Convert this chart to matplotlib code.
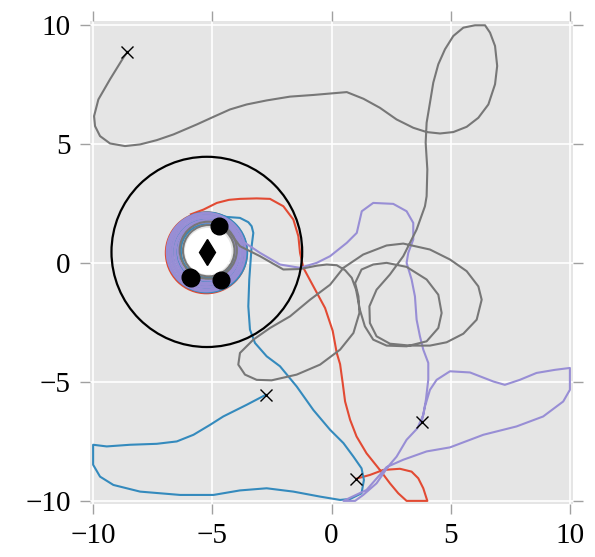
import matplotlib
matplotlib.use("Agg")
import matplotlib.pyplot as plt
from matplotlib.patches import Circle

plt.rcParams["font.family"] = ["Liberation Serif", "DejaVu Sans"]

# Agent trajectories (start marked with an x, ending in orbit around the target)
red_x = [1.03, 1.61, 2.17, 2.87, 3.36, 3.64, 3.85, 4.02, 3.15, 2.80, 2.45, 2.03, 1.47,
         1.05, 0.78, 0.57, 0.47, 0.36, 0.22, 0.05, -0.27, -0.76, -1.18, -1.32, -1.39,
         -1.60, -2.02, -2.58, -3.14, -3.84, -4.30, -4.81, -5.37, -5.90]
red_y = [-9.07, -8.91, -8.70, -8.65, -8.77, -9.05, -9.47, -10.0, -10.0, -9.68, -9.26,
         -8.70, -8.00, -7.29, -6.59, -5.82, -5.05, -4.25, -3.78, -2.85, -1.89, -0.98,
         -0.20, 0.43, 1.13, 1.83, 2.39, 2.70, 2.72, 2.70, 2.66, 2.53, 2.25, 2.05]

blue_x = [-2.76, -3.56, -4.54, -5.09, -5.79, -6.49, -7.33, -8.45, -9.43, -10.0, -10.0,
          -9.71, -9.15, -8.03, -6.35, -4.95, -3.84, -2.72, -1.60, -0.48, 0.36, 0.78,
          1.26, 1.36, 1.26, 0.92, 0.50, -0.06, -0.76, -1.46, -2.16, -2.72, -3.21, -3.42,
          -3.49, -3.45, -3.35, -3.28, -3.35, -3.49, -3.84, -4.40, -4.90]
blue_y = [-5.54, -5.96, -6.45, -6.80, -7.22, -7.50, -7.60, -7.64, -7.71, -7.64, -8.48,
          -8.98, -9.33, -9.61, -9.75, -9.75, -9.56, -9.47, -9.61, -9.82, -9.96, -9.92,
          -9.68, -9.12, -8.63, -8.14, -7.57, -7.01, -6.18, -5.19, -4.34, -3.92, -3.36,
          -2.80, -1.82, -0.69, 0.71, 1.27, 1.55, 1.72, 1.90, 1.94, 2.08]

purple_x = [3.78, 3.92, 4.13, 4.41, 4.97, 5.81, 6.79, 7.27, 7.90, 8.60, 9.37, 10.0, 10.0,
            9.72, 8.88, 7.76, 6.37, 4.97, 3.99, 3.01, 2.31, 1.47, 0.50, 0.99, 1.33, 1.89,
            2.38, 2.73, 3.15, 3.60, 3.85, 3.96, 4.06, 4.06, 3.85, 3.71, 3.57, 3.50, 3.36,
            3.15, 3.22, 3.43, 3.43, 3.15, 2.59, 1.75, 1.27, 1.06, 0.64, -0.06, -0.62,
            -1.32, -2.16, -3.00, -3.84, -4.15]
purple_y = [-6.70, -6.03, -5.33, -4.91, -4.55, -4.60, -4.98, -5.12, -4.91, -4.62, -4.49,
            -4.41, -5.33, -5.82, -6.45, -6.87, -7.22, -7.75, -7.92, -8.27, -8.58, -9.54,
            -10.0, -10.0, -9.75, -9.26, -8.55, -8.14, -7.43, -6.95, -6.38, -5.75, -4.90,
            -4.20, -3.64, -3.08, -2.38, -1.40, -0.69, 0.01, 0.43, 0.99, 1.69, 2.18, 2.49,
            2.53, 2.18, 1.27, 0.85, 0.29, 0.01, -0.20, -0.06, 0.43, 0.99, 1.45]

gray_x = [-8.56, -8.73, -9.29, -9.78, -9.96, -9.92, -9.71, -9.29, -8.66, -8.03, -7.33,
          -6.63, -5.65, -4.95, -4.26, -3.56, -2.72, -1.74, -0.76, 0.64, 1.34, 2.03, 2.73,
          3.43, 3.99, 4.55, 5.11, 5.67, 6.16, 6.58, 6.86, 6.95, 6.86, 6.65, 6.44, 6.02,
          5.53, 5.11, 4.76, 4.48, 4.27, 4.13, 3.99, 3.95, 4.02, 3.99, 3.92, 3.57, 3.01,
          2.45, 1.89, 1.59, 1.61, 1.89, 2.45, 3.29, 4.13, 4.83, 5.53, 6.09, 6.30, 6.16,
          5.67, 4.97, 4.13, 3.01, 2.31, 1.33, 0.50, -0.06, -0.90, -1.74, -2.58, -3.28,
          -3.84, -3.91, -3.63, -3.14, -2.51, -1.46, -0.48, 0.36, 0.92, 1.17, 1.13, 0.99,
          1.26, 1.75, 2.31, 3.15, 3.99, 4.48, 4.62, 4.48, 3.99, 3.15, 2.31, 1.75, 1.40,
          1.19, 1.03, 0.85, 0.57, 0.22, -0.20, -0.62, -1.32, -2.02, -3.00, -3.84, -4.26,
          -4.74]
gray_y = [8.88, 8.64, 7.73, 6.88, 6.18, 5.76, 5.34, 5.03, 4.92, 4.99, 5.17, 5.41, 5.83,
          6.15, 6.46, 6.67, 6.84, 7.00, 7.07, 7.19, 6.91, 6.53, 6.04, 5.69, 5.51, 5.45,
          5.51, 5.73, 6.11, 6.67, 7.52, 8.29, 9.13, 9.69, 10.0, 10.0, 9.90, 9.55, 8.99,
          8.36, 7.59, 6.74, 5.90, 5.06, 3.94, 2.81, 2.39, 1.41, 0.29, -0.48, -1.12, -1.82,
          -2.52, -3.08, -3.39, -3.47, -3.47, -3.33, -2.97, -2.38, -1.54, -0.98, -0.34,
          0.15, 0.57, 0.82, 0.74, 0.36, -0.20, -0.91, -1.54, -2.24, -2.73, -3.22, -3.78,
          -4.27, -4.69, -4.91, -4.93, -4.69, -4.27, -3.64, -2.94, -2.10, -1.40, -0.84,
          -0.27, -0.06, 0.01, -0.16, -0.69, -1.33, -2.10, -2.73, -3.29, -3.50, -3.47,
          -3.22, -2.66, -1.96, -1.12, -0.62, -0.30, -0.09, -0.06, -0.11, -0.25, -0.27,
          0.29, 0.71, 1.27, 1.58]

series = [
    ("#E24A33", red_x, red_y),
    ("#348ABD", blue_x, blue_y),
    ("#988ED5", purple_x, purple_y),
    ("#777777", gray_x, gray_y),
]

# Final loops around the target: (centre x, centre y, radius) for each loop
target = (-5.23, 0.47)
sensing_radius = 4.0
red_orbits = [(-5.25, 0.43, 1.70), (-5.22, 0.45, 1.62), (-5.30, 0.45, 1.38)]
blue_orbits = [(-5.22, 0.45, 1.68), (-5.20, 0.50, 1.55), (-5.26, 0.44, 1.40),
               (-5.24, 0.50, 1.27), (-5.18, 0.52, 1.14)]
purple_orbits = [(-5.26, 0.46, 1.65), (-5.24, 0.47, 1.61), (-5.27, 0.45, 1.56),
                 (-5.25, 0.48, 1.51), (-5.23, 0.46, 1.46), (-5.26, 0.49, 1.41),
                 (-5.24, 0.47, 1.34), (-5.25, 0.46, 1.29), (-5.22, 0.49, 1.22)]
gray_orbits = [(-5.17, 0.54, 1.20), (-5.15, 0.52, 1.08)]
orbits = [red_orbits, blue_orbits, purple_orbits, gray_orbits]
inner_radius = 0.98

final_x = [-5.90, -5.95, -4.74, -4.65]
final_y = [-0.62, -0.58, 1.58, -0.72]

fig = plt.figure(figsize=(5.95, 5.57), dpi=100)
ax = fig.add_axes([0.1513, 0.0952, 0.8117, 0.8671])
ax.set_facecolor("#E5E5E5")
ax.grid(True, color="white", linewidth=1.2)
ax.set_axisbelow(True)
for s in ax.spines.values():
    s.set_visible(False)

ax.add_patch(Circle((-5.17, 0.50), inner_radius, facecolor="white", edgecolor="none", zorder=1.5))

for (color, xs, ys), loops in zip(series, orbits):
    ax.plot(xs, ys, color=color, lw=1.5, zorder=2)
    for cx, cy, r in loops:
        ax.add_patch(Circle((cx, cy), r, facecolor="none", edgecolor=color, lw=1.5, zorder=2))

ax.add_patch(Circle(target, sensing_radius, facecolor="none", edgecolor="black", lw=1.6, zorder=3))

start_x = [xs[0] for _, xs, _ in series]
start_y = [ys[0] for _, _, ys in series]
ax.plot(start_x, start_y, "x", color="black", ms=9, mew=1.0, zorder=4)
ax.plot(final_x, final_y, "o", color="black", ms=12, zorder=4)
ax.plot([target[0]], [target[1]], "d", color="black", ms=13, zorder=4)

ax.set_xlim(-10.13, 10.13)
ax.set_ylim(-10.13, 10.18)
ticks = [-10, -5, 0, 5, 10]
ax.set_xticks(ticks)
ax.set_yticks(ticks)
ax.tick_params(direction="out", length=7, width=1, color="#A0A0A0",
               top=True, right=True, labelsize=21, pad=7, labelcolor="black")

fig.savefig("out.png", dpi=100)
